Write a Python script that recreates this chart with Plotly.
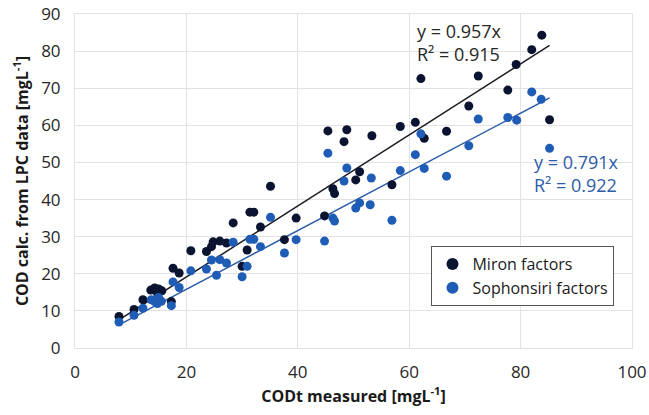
import plotly.graph_objects as go

# Miron factors (dark)
miron_x = [7.9, 10.6, 12.2, 13.6, 14.3, 15.0, 15.6, 14.8, 17.3, 17.6, 18.7, 20.8, 23.6, 24.5,
           24.8, 26.0, 27.2, 28.4, 30.0, 30.9, 31.4, 32.1, 33.3, 35.1, 37.6, 39.7, 44.8, 45.4,
           46.3, 46.6, 48.3, 48.8, 50.4, 51.1, 53.3, 56.9, 58.4, 61.1, 62.1, 62.7, 66.7, 70.7,
           72.4, 77.7, 79.2, 82.0, 83.8, 85.2]
miron_y = [8.5, 10.4, 13.0, 15.6, 16.2, 15.9, 15.4, 14.8, 12.5, 21.5, 20.2, 26.2, 26.0, 27.3,
           28.6, 28.8, 28.3, 33.7, 22.0, 26.4, 36.6, 36.6, 32.6, 43.6, 29.2, 35.0, 35.6, 58.5,
           42.9, 41.6, 55.6, 58.8, 45.3, 47.5, 57.2, 44.0, 59.7, 60.8, 72.6, 56.5, 58.4, 65.2,
           73.3, 69.5, 76.4, 80.4, 84.3, 61.5]

# Sophonsiri factors (blue)
soph_x = [7.9, 10.6, 12.2, 13.7, 14.3, 15.0, 15.5, 14.8, 17.3, 17.6, 18.7, 20.8, 23.6, 24.5,
          25.4, 26.0, 27.2, 28.4, 30.0, 30.9, 31.4, 32.1, 33.3, 35.1, 37.6, 39.7, 44.8, 45.4,
          46.3, 46.6, 48.3, 48.8, 50.4, 51.1, 53.0, 53.2, 56.9, 58.4, 61.1, 62.1, 62.7, 66.7,
          70.7, 72.4, 77.7, 79.3, 82.0, 83.7, 85.2]
soph_y = [7.0, 8.8, 10.7, 13.0, 12.5, 13.6, 12.6, 12.0, 11.4, 17.8, 16.3, 20.8, 21.3, 23.7,
          19.6, 23.8, 22.9, 28.5, 19.2, 22.0, 29.3, 29.3, 27.3, 35.2, 25.6, 29.2, 28.8, 52.5,
          35.0, 34.2, 45.0, 48.5, 37.7, 39.1, 38.6, 45.8, 34.4, 47.8, 52.1, 57.7, 48.4, 46.3,
          54.5, 61.7, 62.1, 61.4, 69.0, 67.0, 53.8]

# Trendline slopes (fit through origin) and labels
miron_slope = 0.957
soph_slope = 0.791
miron_r2 = 0.915
soph_r2 = 0.922

x_ticks = [0, 20, 40, 60, 80, 100]
y_ticks = [0, 10, 20, 30, 40, 50, 60, 70, 80, 90]

DARK = "#0a1330"
BLUE = "#1f5cb6"
FONT = "Open Sans"

fig = go.Figure()

mx = [min(miron_x), max(miron_x)]
sx = [min(soph_x), max(soph_x)]
fig.add_trace(go.Scatter(x=mx, y=[miron_slope * v for v in mx], mode="lines",
                         line=dict(color="#1b1b24", width=1.5), showlegend=False, hoverinfo="skip"))
fig.add_trace(go.Scatter(x=sx, y=[soph_slope * v for v in sx], mode="lines",
                         line=dict(color="#2b5ca8", width=1.5), showlegend=False, hoverinfo="skip"))

fig.add_trace(go.Scatter(x=miron_x, y=miron_y, mode="markers", name="Miron factors",
                         marker=dict(color=DARK, size=9)))
fig.add_trace(go.Scatter(x=soph_x, y=soph_y, mode="markers", name="Sophonsiri factors",
                         marker=dict(color=BLUE, size=9)))

fig.add_annotation(x=61.0, y=82.3, xref="x", yref="y", xanchor="left", yanchor="middle",
                   text=f"y = {miron_slope}x<br>R² = {miron_r2}", showarrow=False, align="left",
                   font=dict(family=FONT, size=18, color="#262626"))
fig.add_annotation(x=82.0, y=47.0, xref="x", yref="y", xanchor="left", yanchor="middle",
                   text=f"y = {soph_slope}x<br>R² = {soph_r2}", showarrow=False, align="left",
                   font=dict(family=FONT, size=18, color="#2b5ca8"))

grid = "#e3e3e3"
fig.update_layout(
    width=649, height=415,
    margin=dict(l=75, r=17, t=14, b=67),
    paper_bgcolor="white", plot_bgcolor="white",
    font=dict(family=FONT, size=17, color="#262626"),
    showlegend=True,
    legend=dict(x=0.64, y=0.305, xanchor="left", yanchor="top",
                bordercolor="#555555", borderwidth=1, bgcolor="white",
                font=dict(family=FONT, size=16, color="#1a1a1a"),
                itemwidth=30, itemsizing="constant", tracegroupgap=0),
    xaxis=dict(range=[0, 100], tickvals=x_ticks, showgrid=True, gridcolor=grid,
               zeroline=False, showline=True, linecolor=grid, mirror=True,
               ticks="", ticklabelstandoff=9, automargin=False,
               title=dict(text="<b>CODt measured [mgL<sup>-1</sup>]</b>", standoff=8,
                          font=dict(family=FONT, size=16, color="#1a1a1a"))),
    yaxis=dict(range=[0, 90], tickvals=y_ticks, showgrid=True, gridcolor=grid,
               zeroline=False, showline=True, linecolor=grid, mirror=True,
               ticks="", ticklabelstandoff=10, automargin=False,
               title=dict(text="<b>COD calc. from LPC data [mgL<sup>-1</sup>]</b>", standoff=8,
                          font=dict(family=FONT, size=16, color="#1a1a1a"))),
)

fig.write_html("out.html", config={"displayModeBar": False},
               post_script="document.body.style.margin='0';document.body.style.padding='0';")
